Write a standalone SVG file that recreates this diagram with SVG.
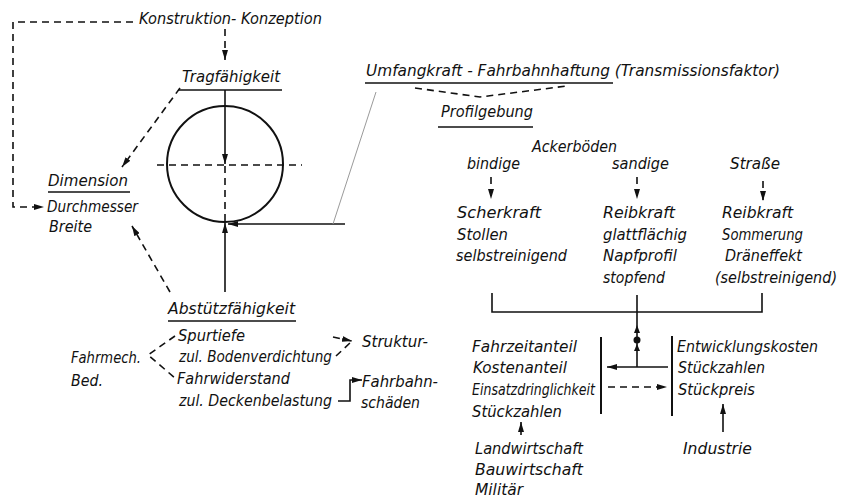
<svg xmlns="http://www.w3.org/2000/svg" width="843" height="499" viewBox="0 0 843 499">
<defs>
<style>
text{font-family:"DejaVu Sans Condensed","DejaVu Sans","Liberation Sans",sans-serif;font-stretch:condensed;font-style:italic;font-size:16.5px;fill:#111;}
.s{fill:none;stroke:#111;stroke-width:1.6;}
.d{fill:none;stroke:#111;stroke-width:1.6;stroke-dasharray:7 5;}
.u{stroke:#111;stroke-width:1.6;}
.g{stroke:#9a9a9a;stroke-width:1;fill:none;}
</style>
<marker id="a" viewBox="0 0 10 6" refX="10" refY="3" markerWidth="10" markerHeight="6" markerUnits="userSpaceOnUse" orient="auto">
<path d="M0,0 L10,3 L0,6 z" fill="#111"/>
</marker>
</defs>
<rect width="843" height="499" fill="#fff"/>

<g id="konstruktion"><text x="139" y="24" textLength="183" lengthAdjust="spacingAndGlyphs">Konstruktion- Konzeption</text></g>
<g id="tragfaehigkeit"><text x="182" y="82" textLength="98" lengthAdjust="spacingAndGlyphs">Tragfähigkeit</text><line class="u" x1="178" y1="90" x2="282" y2="90"/></g>
<g id="dimension">
<text x="48" y="186" textLength="80" lengthAdjust="spacingAndGlyphs">Dimension</text><line class="u" x1="48" y1="192" x2="130" y2="192"/>
<text x="47" y="212" textLength="91" lengthAdjust="spacingAndGlyphs">Durchmesser</text>
<text x="49" y="232" textLength="43" lengthAdjust="spacingAndGlyphs">Breite</text>
</g>
<g id="rad">
<circle cx="225" cy="164" r="58" fill="none" stroke="#111" stroke-width="2"/>
<line class="d" x1="157" y1="165" x2="302" y2="165"/>
<line class="d" x1="225" y1="166" x2="225" y2="222"/>
</g>
<g id="abstuetz">
<text x="168" y="314" textLength="127" lengthAdjust="spacingAndGlyphs">Abstützfähigkeit</text><line class="u" x1="168" y1="321" x2="296" y2="321"/>
<text x="178" y="341" textLength="67" lengthAdjust="spacingAndGlyphs">Spurtiefe</text>
<text x="179" y="362" textLength="153" lengthAdjust="spacingAndGlyphs">zul. Bodenverdichtung</text>
<text x="177" y="384" textLength="113" lengthAdjust="spacingAndGlyphs">Fahrwiderstand</text>
<text x="179" y="406" textLength="153" lengthAdjust="spacingAndGlyphs">zul. Deckenbelastung</text>
</g>
<g id="fahrmech"><text x="71" y="363" textLength="70" lengthAdjust="spacingAndGlyphs">Fahrmech.</text><text x="71" y="386" textLength="32" lengthAdjust="spacingAndGlyphs">Bed.</text></g>
<g id="struktur"><text x="362" y="347" textLength="66" lengthAdjust="spacingAndGlyphs">Struktur-</text></g>
<g id="fahrbahnschaeden"><text x="362" y="387" textLength="76" lengthAdjust="spacingAndGlyphs">Fahrbahn-</text><text x="361" y="408" textLength="59" lengthAdjust="spacingAndGlyphs">schäden</text></g>
<g id="umfangkraft"><text x="366" y="76" textLength="414" lengthAdjust="spacingAndGlyphs">Umfangkraft - Fahrbahnhaftung (Transmissionsfaktor)</text><line class="u" x1="365" y1="83" x2="613" y2="83"/></g>
<g id="profilgebung"><text x="441" y="117" textLength="92" lengthAdjust="spacingAndGlyphs">Profilgebung</text><line class="u" x1="438" y1="127" x2="533" y2="127"/></g>
<g id="ackerboeden"><text x="532" y="152" textLength="85" lengthAdjust="spacingAndGlyphs">Ackerböden</text></g>
<g id="bindige"><text x="467" y="169" textLength="53" lengthAdjust="spacingAndGlyphs">bindige</text>
<text x="457" y="218" textLength="84" lengthAdjust="spacingAndGlyphs">Scherkraft</text>
<text x="457" y="240" textLength="51" lengthAdjust="spacingAndGlyphs">Stollen</text>
<text x="456" y="261" textLength="111" lengthAdjust="spacingAndGlyphs">selbstreinigend</text></g>
<g id="sandige"><text x="612" y="169" textLength="57" lengthAdjust="spacingAndGlyphs">sandige</text>
<text x="603" y="218" textLength="72" lengthAdjust="spacingAndGlyphs">Reibkraft</text>
<text x="603" y="240" textLength="84" lengthAdjust="spacingAndGlyphs">glattflächig</text>
<text x="603" y="261" textLength="74" lengthAdjust="spacingAndGlyphs">Napfprofil</text>
<text x="603" y="283" textLength="62" lengthAdjust="spacingAndGlyphs">stopfend</text></g>
<g id="strasse"><text x="730" y="169" textLength="50" lengthAdjust="spacingAndGlyphs">Straße</text>
<text x="722" y="218" textLength="71" lengthAdjust="spacingAndGlyphs">Reibkraft</text>
<text x="722" y="240" textLength="81" lengthAdjust="spacingAndGlyphs">Sommerung</text>
<text x="725" y="261" textLength="77" lengthAdjust="spacingAndGlyphs">Dräneffekt</text>
<text x="715" y="283" textLength="122" lengthAdjust="spacingAndGlyphs">(selbstreinigend)</text></g>
<g id="nutzer"><text x="472" y="352" textLength="105" lengthAdjust="spacingAndGlyphs">Fahrzeitanteil</text>
<text x="473" y="373" textLength="94" lengthAdjust="spacingAndGlyphs">Kostenanteil</text>
<text x="472" y="395" textLength="123" lengthAdjust="spacingAndGlyphs">Einsatzdringlichkeit</text>
<text x="472" y="417" textLength="90" lengthAdjust="spacingAndGlyphs">Stückzahlen</text>
<line x1="601" y1="337" x2="601" y2="414" stroke="#111" stroke-width="2"/></g>
<g id="hersteller"><text x="677" y="352" textLength="141" lengthAdjust="spacingAndGlyphs">Entwicklungskosten</text>
<text x="678" y="373" textLength="87" lengthAdjust="spacingAndGlyphs">Stückzahlen</text>
<text x="678" y="395" textLength="77" lengthAdjust="spacingAndGlyphs">Stückpreis</text>
<line x1="672" y1="336" x2="672" y2="416" stroke="#111" stroke-width="2"/></g>
<g id="anwender"><text x="475" y="454" textLength="108" lengthAdjust="spacingAndGlyphs">Landwirtschaft</text>
<text x="475" y="475" textLength="108" lengthAdjust="spacingAndGlyphs">Bauwirtschaft</text>
<text x="475" y="495" textLength="48" lengthAdjust="spacingAndGlyphs">Militär</text></g>
<g id="industrie"><text x="683" y="454" textLength="69" lengthAdjust="spacingAndGlyphs">Industrie</text></g>

<g id="connectors">
<path class="d" d="M133,22 H13 V207 H44" marker-end="url(#a)"/>
<line class="d" x1="225" y1="29" x2="225" y2="60" marker-end="url(#a)"/>
<line class="d" x1="180" y1="88" x2="122" y2="167" marker-end="url(#a)"/>
<line class="s" x1="225" y1="90" x2="225" y2="164" marker-end="url(#a)"/>
<line class="s" x1="225" y1="292" x2="225" y2="223" marker-end="url(#a)"/>
<line class="s" x1="345" y1="224" x2="228" y2="224" marker-end="url(#a)"/>
<line class="g" x1="333" y1="224" x2="376" y2="92"/>
<line class="d" x1="170" y1="292" x2="132" y2="226" marker-end="url(#a)"/>
<path class="d" d="M175,336 L148,355 L175,378" stroke-dasharray="5 4"/>
<line class="d" x1="333" y1="337" x2="352" y2="341" stroke-dasharray="5 4" marker-end="url(#a)"/>
<line class="d" x1="336" y1="356" x2="351" y2="342" stroke-dasharray="5 4"/>
<path class="s" d="M338,401 H350 V380 H362" marker-end="url(#a)"/>
<path class="d" d="M415,88 L480,97 L567,86" stroke-dasharray="6 4"/>
<line class="d" x1="491" y1="177" x2="491" y2="199" stroke-dasharray="5 4" marker-end="url(#a)"/>
<line class="d" x1="637" y1="177" x2="637" y2="199" stroke-dasharray="5 4" marker-end="url(#a)"/>
<line class="d" x1="763" y1="181" x2="763" y2="201" stroke-dasharray="5 4" marker-end="url(#a)"/>
<path class="s" d="M492,293 V312 H762 V293"/>
<line class="s" x1="637" y1="295" x2="637" y2="367"/>
<path d="M637,325 L640,333 L634,333 z" fill="#111"/>
<circle cx="637" cy="340" r="3.5" fill="#111"/>
<path d="M637,344 L640,351 L634,351 z" fill="#111"/>
<line class="s" x1="668" y1="367" x2="607" y2="367" marker-end="url(#a)"/>
<line class="d" x1="608" y1="387" x2="667" y2="387" marker-end="url(#a)"/>
<line class="s" x1="521" y1="435" x2="521" y2="422" marker-end="url(#a)"/>
<line class="s" x1="723" y1="432" x2="723" y2="404" marker-end="url(#a)"/>
</g>
</svg>
